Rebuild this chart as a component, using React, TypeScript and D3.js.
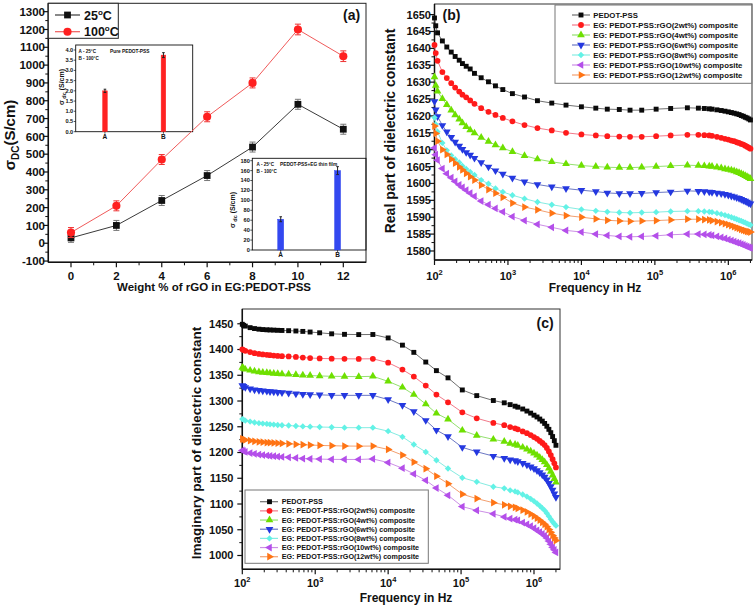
import React from 'react';
import * as d3 from 'd3';

const FONT = "'Liberation Sans', Arial, Helvetica, sans-serif";

// ---------------- Panel (a) data ----------------
const rgoWeights = [0, 2, 4, 6, 8, 10, 12];
const rgoMinorWeights = [1, 3, 5, 7, 9, 11];
const sigma25C = [30, 100, 240, 380, 540, 780, 640];
const sigma25CErr = [25, 28, 28, 28, 28, 28, 28];
const sigma100C = [60, 210, 470, 710, 900, 1200, 1050];
const sigma100CErr = [28, 28, 28, 28, 28, 30, 30];
const sigmaTicks = [-100, 0, 100, 200, 300, 400, 500, 600, 700, 800, 900, 1000, 1100, 1200, 1300];
const tempLabels = ['25', '100'];

const insetCats = ['A', 'B'];
const insetCatPos = [1, 2];
const pureSigma = [2.0, 3.75];
const pureSigmaErr = [0.08, 0.12];
const pureTicks = [0, 0.5, 1.0, 1.5, 2.0, 2.5, 3.0, 3.5, 4.0];
const egSigma = [62, 160];
const egSigmaErr = [5, 8];
const egTicks = [0, 20, 40, 60, 80, 100, 120, 140, 160, 180];

// ---------------- Panels (b), (c) data ----------------
const freqHz = [
  100, 104, 110, 128, 147, 169, 191, 217, 240, 270, 306, 350, 432, 543, 676, 851,
  1150, 1680, 2520, 3950, 6170, 10000, 15700, 22500, 32800, 45900, 66200, 104000,
  164000, 277000, 391000, 471000,
  550000, 600000, 700000, 800000, 900000, 1000000, 1100000, 1200000, 1300000,
  1400000, 1500000, 1600000, 1700000, 1800000, 1900000, 2000000,
];
const decadeExps = [2, 3, 4, 5, 6];

const compositeNames = [
  'PEDOT-PSS',
  'EG: PEDOT-PSS:rGO(2wt%) composite',
  'EG: PEDOT-PSS:rGO(4wt%) composite',
  'EG: PEDOT-PSS:rGO(6wt%) composite',
  'EG: PEDOT-PSS:rGO(8wt%) composite',
  'EG: PEDOT-PSS:rGO(10wt%) composite',
  'EG: PEDOT-PSS:rGO(12wt%) composite',
];

const realPEDOT = [
  1649.0, 1646.7, 1644.6, 1642.2, 1640.4, 1638.9, 1637.6, 1636.5, 1635.5, 1634.7, 1633.9, 1632.6, 1631.3, 1630.1, 1628.9, 1627.8,
  1626.6, 1625.6, 1624.5, 1623.8, 1623.2, 1622.7, 1622.3, 1622.0, 1621.9, 1621.7, 1621.7, 1622.0, 1622.2, 1622.4, 1622.3, 1622.2,
  1622.1, 1622.0, 1621.8, 1621.6, 1621.4, 1621.2, 1621.0, 1620.8, 1620.6, 1620.4, 1620.1, 1619.9, 1619.6, 1619.4, 1619.1, 1618.8,
];
const realRGO2 = [
  1641.0, 1638.6, 1636.3, 1633.0, 1631.2, 1629.7, 1628.4, 1627.2, 1626.3, 1625.5, 1624.6, 1623.6, 1622.3, 1621.2, 1620.3, 1619.4,
  1618.4, 1617.3, 1616.4, 1615.7, 1615.0, 1614.5, 1614.2, 1614.0, 1613.9, 1613.8, 1613.8, 1614.0, 1614.2, 1614.4, 1614.4, 1614.3,
  1614.2, 1614.1, 1613.8, 1613.5, 1613.2, 1613.0, 1612.7, 1612.5, 1612.2, 1612.0, 1611.7, 1611.5, 1611.2, 1610.9, 1610.6, 1610.3,
];
const realRGO4 = [
  1631.5, 1629.0, 1627.3, 1625.1, 1623.3, 1621.7, 1620.3, 1619.0, 1617.9, 1616.8, 1615.8, 1614.9, 1613.6, 1612.4, 1611.4, 1610.5,
  1609.4, 1608.2, 1607.2, 1606.4, 1605.8, 1605.3, 1605.0, 1604.8, 1604.7, 1604.7, 1604.8, 1605.0, 1605.2, 1605.4, 1605.3, 1605.2,
  1605.1, 1605.0, 1604.8, 1604.6, 1604.3, 1604.1, 1603.9, 1603.7, 1603.4, 1603.2, 1602.9, 1602.6, 1602.3, 1602.0, 1601.7, 1601.4,
];
const realRGO6 = [
  1624.3, 1621.8, 1619.8, 1617.2, 1615.3, 1613.7, 1612.3, 1611.1, 1610.1, 1609.2, 1608.4, 1607.5, 1606.2, 1604.9, 1603.8, 1602.8,
  1601.6, 1600.5, 1599.7, 1599.0, 1598.5, 1598.0, 1597.6, 1597.2, 1597.0, 1597.0, 1597.1, 1597.3, 1597.5, 1597.8, 1597.7, 1597.6,
  1597.5, 1597.4, 1597.2, 1597.0, 1596.8, 1596.6, 1596.3, 1596.1, 1595.8, 1595.6, 1595.3, 1595.0, 1594.8, 1594.5, 1594.2, 1594.0,
];
const realRGO8 = [
  1619.5, 1617.5, 1615.3, 1612.0, 1609.8, 1608.3, 1607.2, 1606.2, 1605.2, 1604.3, 1603.4, 1602.5, 1601.0, 1599.9, 1598.5, 1597.5,
  1596.5, 1595.5, 1594.5, 1593.7, 1593.0, 1592.3, 1591.9, 1591.6, 1591.4, 1591.3, 1591.4, 1591.5, 1591.7, 1591.8, 1591.8, 1591.7,
  1591.6, 1591.5, 1591.2, 1590.9, 1590.6, 1590.3, 1590.0, 1589.7, 1589.4, 1589.1, 1588.9, 1588.6, 1588.4, 1588.1, 1587.9, 1587.7,
];
const realRGO10 = [
  1610.5, 1608.5, 1606.9, 1604.4, 1602.9, 1601.7, 1600.6, 1599.6, 1598.8, 1598.0, 1597.1, 1596.2, 1594.8, 1593.7, 1592.6, 1591.6,
  1590.2, 1589.0, 1587.9, 1587.0, 1586.1, 1585.6, 1585.0, 1584.6, 1584.3, 1584.2, 1584.3, 1584.5, 1584.8, 1585.0, 1585.0, 1584.9,
  1584.8, 1584.6, 1584.3, 1584.0, 1583.7, 1583.4, 1583.1, 1582.8, 1582.5, 1582.3, 1582.0, 1581.8, 1581.5, 1581.3, 1581.1, 1580.9,
];
const realRGO12 = [
  1617.0, 1614.8, 1612.5, 1610.0, 1608.6, 1607.2, 1606.0, 1604.9, 1604.0, 1603.0, 1602.0, 1601.0, 1599.5, 1598.2, 1597.1, 1595.9,
  1594.2, 1593.0, 1592.2, 1591.2, 1590.5, 1590.0, 1589.5, 1589.1, 1588.9, 1588.8, 1588.9, 1589.0, 1589.2, 1589.4, 1589.4, 1589.3,
  1589.2, 1589.0, 1588.7, 1588.4, 1588.1, 1587.8, 1587.5, 1587.2, 1586.9, 1586.7, 1586.4, 1586.2, 1586.0, 1585.8, 1585.7, 1585.6,
];
const realTicks = [1580, 1585, 1590, 1595, 1600, 1605, 1610, 1615, 1620, 1625, 1630, 1635, 1640, 1645, 1650];

const imagPEDOT = [
  1449, 1447, 1445.5, 1442.5, 1440.7, 1439.5, 1438.8, 1438.3, 1438, 1437.7, 1437.3, 1437, 1436.6, 1436, 1435.2, 1434,
  1432.5, 1430.5, 1429.5, 1429, 1429.2, 1422.5, 1408.5, 1394.5, 1375.7, 1359, 1345, 1321.5, 1310.5, 1301, 1296.5, 1293,
  1290, 1288, 1284.5, 1280.5, 1276.5, 1272.5, 1269, 1265, 1261, 1256.5, 1251, 1245, 1238.5, 1231, 1223, 1214,
];
const imagRGO2 = [
  1400.5, 1399, 1397.5, 1395, 1393, 1391.5, 1390.5, 1389.8, 1389, 1388.3, 1387.6, 1387, 1386.5, 1385.7, 1384.5, 1383.5,
  1382.7, 1382.2, 1382, 1381.8, 1382, 1374.5, 1361, 1347.5, 1330, 1312.5, 1297.5, 1278, 1266.5, 1257.5, 1253, 1249.5,
  1247, 1245, 1241, 1237.5, 1234, 1230, 1226.5, 1222.5, 1218.5, 1214.5, 1209, 1202, 1195, 1187, 1179, 1171,
];
const imagRGO4 = [
  1365, 1363, 1361.5, 1359.5, 1357.7, 1356.5, 1355.5, 1354.8, 1354.2, 1353.5, 1353, 1352.4, 1351.8, 1351, 1350, 1349.5,
  1348.7, 1348, 1347.7, 1347.3, 1348, 1338.2, 1326.5, 1312.4, 1294, 1276, 1264.5, 1243, 1233, 1225.5, 1221.5, 1217.5,
  1215.5, 1213.5, 1210, 1206.5, 1202.5, 1198.5, 1194.5, 1190.5, 1186, 1181.5, 1176, 1169.5, 1163, 1156, 1149, 1142,
];
const imagRGO6 = [
  1330, 1328.5, 1326.5, 1324, 1322, 1320.8, 1319.8, 1319.2, 1318.6, 1318, 1317.2, 1316.4, 1315.4, 1314.3, 1313.2, 1312.6,
  1312, 1311.2, 1311, 1311, 1311, 1302.8, 1291.6, 1279.5, 1262.4, 1243.5, 1231, 1210, 1201.5, 1193, 1189, 1186,
  1184.5, 1182.5, 1179, 1176, 1172.5, 1169, 1165, 1161, 1157, 1152.5, 1147, 1140.5, 1134, 1127, 1120, 1113,
];
const imagRGO8 = [
  1265, 1263.7, 1262, 1260, 1258.3, 1257, 1256.2, 1255.5, 1254.8, 1254.2, 1253.5, 1253, 1252.4, 1251.5, 1250.7, 1250.2,
  1249.5, 1249, 1248.3, 1248.2, 1248.3, 1241.5, 1230.5, 1215.5, 1201, 1185, 1169, 1151, 1143, 1133.5, 1130.5, 1126.5,
  1124.5, 1122.5, 1118.5, 1114.5, 1110, 1105.5, 1101, 1096.5, 1092, 1087.5, 1082, 1076, 1070.5, 1065.5, 1061.5, 1058,
];
const imagRGO10 = [
  1204, 1202.7, 1201, 1199, 1197.5, 1196, 1195, 1194.2, 1193.3, 1192.8, 1192.2, 1191.5, 1190.7, 1189.5, 1188.3, 1187.8,
  1187.2, 1186.7, 1186.5, 1186.5, 1187.5, 1180.5, 1169.5, 1158.5, 1146, 1131, 1117, 1095, 1087.5, 1081, 1075, 1071.5,
  1069.5, 1068, 1064, 1060.5, 1057, 1053, 1049, 1045.5, 1042, 1038.5, 1034, 1028, 1022, 1016, 1011, 1006,
];
const imagRGO12 = [
  1226.5, 1225.5, 1224.5, 1223, 1221.8, 1220.8, 1220, 1219.4, 1219, 1218.6, 1218, 1217.6, 1217, 1216, 1215.2, 1214.5,
  1213.8, 1213.2, 1212.6, 1212.4, 1212.5, 1206, 1195, 1181.5, 1168.5, 1154, 1139.5, 1119, 1110.5, 1102.5, 1098.5, 1095.5,
  1093.5, 1091.5, 1088, 1084.5, 1080.5, 1076.5, 1072.5, 1068.5, 1064.5, 1060.5, 1056, 1050.5, 1045, 1039, 1034, 1029,
];
const imagTicks = [1000, 1050, 1100, 1150, 1200, 1250, 1300, 1350, 1400, 1450];

const realSeries = [realPEDOT, realRGO2, realRGO4, realRGO6, realRGO8, realRGO10, realRGO12];
const imagSeries = [imagPEDOT, imagRGO2, imagRGO4, imagRGO6, imagRGO8, imagRGO10, imagRGO12];

// ---------------- styles ----------------
const SERIES_STYLE = [
  { marker: 'square', fill: '#0a0a0a', line: '#707070' },
  { marker: 'circle', fill: '#ff1a1a', line: '#f27a8a' },
  { marker: 'triUp', fill: '#6ee000', line: '#94e070' },
  { marker: 'triDown', fill: '#2438e0', line: '#6c78c4' },
  { marker: 'diamond', fill: '#62f2e6', line: '#86ece2' },
  { marker: 'triLeft', fill: '#b44fea', line: '#cc8fe6' },
  { marker: 'triRight', fill: '#ff7414', line: '#f3a070' },
];

function markerPath(kind: string): { d: string; rot: number } {
  if (kind === 'square') return { d: d3.symbol().type(d3.symbolSquare).size(24)() as string, rot: 0 };
  if (kind === 'circle') return { d: d3.symbol().type(d3.symbolCircle).size(26)() as string, rot: 0 };
  if (kind === 'diamond') return { d: d3.symbol().type(d3.symbolSquare).size(20)() as string, rot: 45 };
  const rot = kind === 'triDown' ? 180 : kind === 'triLeft' ? -90 : kind === 'triRight' ? 90 : 0;
  return { d: d3.symbol().type(d3.symbolTriangle).size(26)() as string, rot };
}

// ---------------- Panel (a) ----------------
function ErrorBar({ x, y1, y2, color, cap }: { x: number; y1: number; y2: number; color: string; cap: number }) {
  return (
    <g stroke={color} strokeWidth={1}>
      <line x1={x} x2={x} y1={y1} y2={y2} />
      <line x1={x - cap} x2={x + cap} y1={y1} y2={y1} />
      <line x1={x - cap} x2={x + cap} y1={y2} y2={y2} />
    </g>
  );
}

function Inset(props: {
  L: number; R: number; T: number; B: number; yMax: number; ticks: number[]; fmt: (v: number) => string;
  values: number[]; errs: number[]; color: string; barW: number; yLabelX: number; yLabelY: number;
  note1: string; note2: string; title: string; noteX: number; noteY: number; titleX: number;
}) {
  const { L, R, T, B } = props;
  const x = d3.scaleLinear().domain([0.5, 2.5]).range([L, R]);
  const y = d3.scaleLinear().domain([0, props.yMax]).range([B, T]);
  return (
    <g>
      <rect x={L} y={T} width={R - L} height={B - T} fill="none" stroke="#111" strokeWidth={0.9} />
      {props.ticks.map((t) => (
        <g key={t}>
          <line x1={L - 2} x2={L} y1={y(t)} y2={y(t)} stroke="#111" strokeWidth={0.7} />
          <text x={L - 2.5} y={y(t)} dy="0.35em" fontSize={5.6} fontWeight="bold" textAnchor="end" fill="#111">
            {props.fmt(t)}
          </text>
        </g>
      ))}
      {props.values.map((v, i) => {
        const cx = x(insetCatPos[i]);
        return (
          <g key={i}>
            <rect x={cx - props.barW / 2} y={y(v)} width={props.barW} height={B - y(v)} fill={props.color} stroke={props.color} strokeWidth={0.5} />
            <ErrorBar x={cx} y1={y(v + props.errs[i])} y2={y(v - props.errs[i])} color="#222" cap={1.3} />
            <line x1={cx} x2={cx} y1={B} y2={B + 2} stroke="#111" strokeWidth={0.7} />
            <text x={cx} y={B + 7} fontSize={6.5} fontWeight="bold" textAnchor="middle" fill="#111">
              {insetCats[i]}
            </text>
          </g>
        );
      })}
      <text transform={`translate(${props.yLabelX},${props.yLabelY}) rotate(-90)`} fontSize={7} fontWeight="bold" textAnchor="middle" fill="#111">
        σ<tspan dy={2} fontSize={5.5}> dc</tspan><tspan dy={-2}> (S/cm)</tspan>
      </text>
      <text x={props.noteX} y={props.noteY} fontSize={4.6} fontWeight="bold" fill="#111">
        {props.note1}
      </text>
      <text x={props.noteX} y={props.noteY + 7} fontSize={4.6} fontWeight="bold" fill="#111">
        {props.note2}
      </text>
      <text x={props.titleX} y={props.noteY} fontSize={4.8} fontWeight="bold" fill="#111">
        {props.title}
      </text>
    </g>
  );
}

function PanelA() {
  const L = 48.3, R = 366, T = 3.3, B = 262.3;
  const x = d3.scaleLinear().domain([-1, 13]).range([L, R]);
  const y = d3.scaleLinear().domain([-107, 1347]).range([B, T]);
  const line = d3.line<number>().x((_, i) => x(rgoWeights[i])).y((d) => y(d));
  const sq = d3.symbol().type(d3.symbolSquare).size(46)() as string;
  const ci = d3.symbol().type(d3.symbolCircle).size(52)() as string;
  const minorY = sigmaTicks.slice(0, -1).map((t, i) => (t + sigmaTicks[i + 1]) / 2);
  return (
    <g>
      <rect x={L} y={T} width={R - L} height={B - T} fill="none" stroke="#222" strokeWidth={1} />
      <line x1={L} x2={L} y1={T} y2={B} stroke="#111" strokeWidth={1.5} />
      <line x1={L} x2={R} y1={B} y2={B} stroke="#111" strokeWidth={1.5} />
      {sigmaTicks.map((t) => (
        <g key={t}>
          <line x1={L - 5} x2={L} y1={y(t)} y2={y(t)} stroke="#111" strokeWidth={1.2} />
          <text x={45} y={y(t)} dy="0.36em" fontSize={11.5} fontWeight="bold" textAnchor="end" fill="#111">
            {t}
          </text>
        </g>
      ))}
      {minorY.map((t) => (
        <line key={t} x1={L - 3} x2={L} y1={y(t)} y2={y(t)} stroke="#111" strokeWidth={1} />
      ))}
      {rgoWeights.map((w) => (
        <g key={w}>
          <line x1={x(w)} x2={x(w)} y1={B} y2={B + 5} stroke="#111" strokeWidth={1.2} />
          <text x={x(w)} y={280} fontSize={11.5} fontWeight="bold" textAnchor="middle" fill="#111">
            {w}
          </text>
        </g>
      ))}
      {rgoMinorWeights.map((w) => (
        <line key={w} x1={x(w)} x2={x(w)} y1={B} y2={B + 3} stroke="#111" strokeWidth={1} />
      ))}
      <text x={214} y={290.5} fontSize={11.5} fontWeight="bold" textAnchor="middle" fill="#111">
        Weight % of rGO in EG:PEDOT-PSS
      </text>
      <text transform="translate(15,135) rotate(-90)" fontSize={15} fontWeight="bold" textAnchor="middle" fill="#111">
        σ<tspan dy={4} fontSize={10}>DC</tspan><tspan dy={-4}>(S/cm)</tspan>
      </text>

      {/* insets */}
      <Inset L={75.7} R={192.7} T={45} B={131.7} yMax={4.245} ticks={pureTicks} fmt={(v) => v.toFixed(1)}
        values={pureSigma} errs={pureSigmaErr} color="#ff2222" barW={4.6} yLabelX={63.5} yLabelY={87}
        note1="A - 25°C" note2="B - 100°C" title="Pure PEDOT-PSS" noteX={78.5} noteY={52.5} titleX={110} />
      <Inset L={252.3} R={366} T={158.3} B={250} yMax={184.8} ticks={egTicks} fmt={(v) => String(v)}
        values={egSigma} errs={egSigmaErr} color="#3348f0" barW={6} yLabelX={235} yLabelY={210}
        note1="A - 25°C" note2="B - 100°C" title="PEDOT-PSS+EG thin film" noteX={256.5} noteY={165.5} titleX={280} />

      {/* series */}
      <path d={line(sigma25C) as string} fill="none" stroke="#3a3a3a" strokeWidth={1} />
      <path d={line(sigma100C) as string} fill="none" stroke="#f05a5a" strokeWidth={1} />
      {sigma25C.map((v, i) => (
        <g key={'b' + i}>
          <ErrorBar x={x(rgoWeights[i])} y1={y(v + sigma25CErr[i])} y2={y(v - sigma25CErr[i])} color="#777" cap={3} />
          <path d={sq} transform={`translate(${x(rgoWeights[i])},${y(v)})`} fill="#111" />
        </g>
      ))}
      {sigma100C.map((v, i) => (
        <g key={'r' + i}>
          <ErrorBar x={x(rgoWeights[i])} y1={y(v + sigma100CErr[i])} y2={y(v - sigma100CErr[i])} color="#ee3333" cap={3} />
          <path d={ci} transform={`translate(${x(rgoWeights[i])},${y(v)})`} fill="#ff2020" />
        </g>
      ))}

      {/* legend */}
      <rect x={L} y={T} width={118.3 - L} height={38.3 - T} fill="#fff" stroke="#222" strokeWidth={1} />
      {tempLabels.map((t, i) => {
        const ly = 15 + i * 16.7;
        return (
          <g key={t}>
            <line x1={55} x2={80} y1={ly} y2={ly} stroke={i === 0 ? '#3a3a3a' : '#f05a5a'} strokeWidth={1.2} />
            <path d={i === 0 ? sq : ci} transform={`translate(67.5,${ly})`} fill={i === 0 ? '#111' : '#ff2020'} />
            <text x={84} y={ly + 4.5} fontSize={12.5} fontWeight="bold" fill="#111">
              {t}
              <tspan dy={-5} fontSize={8}>o</tspan>
              <tspan dy={5}>C</tspan>
            </text>
          </g>
        );
      })}
      <text x={343} y={19.5} fontSize={14} fontWeight="bold" fill="#111">(a)</text>
    </g>
  );
}

// ---------------- Panels (b), (c) ----------------
type LegendCfg = { x: number; y: number; w: number; h: number; row0: number; step: number; lx0: number; lx1: number; mx: number; tx: number; font: number };

function DielectricPanel(p: {
  L: number; R: number; T: number; B: number; xMax: number; yLo: number; yHi: number;
  yTicks: number[]; yTickX: number; xTickY: number; xTitleX: number; xTitleY: number;
  yTitle: string; yTitleX: number; yTitleY: number; yTitleSize: number;
  tag: string; tagX: number; tagY: number; series: number[][]; legend: LegendCfg;
}) {
  const { L, R, T, B } = p;
  const x = d3.scaleLog().domain([100, p.xMax]).range([L, R]);
  const y = d3.scaleLinear().domain([p.yLo, p.yHi]).range([B, T]);
  const majors = decadeExps.map((k) => Math.pow(10, k)).filter((v) => v <= p.xMax);
  const minors: number[] = [];
  decadeExps.forEach((k) => {
    for (let m = 2; m <= 9; m++) {
      const v = m * Math.pow(10, k);
      if (v <= p.xMax) minors.push(v);
    }
  });
  const yMinor = p.yTicks.slice(0, -1).map((t, i) => (t + p.yTicks[i + 1]) / 2);
  const lineGen = d3.line<number>().x((_, i) => x(freqHz[i])).y((d) => y(d));
  const lg = p.legend;
  return (
    <g>
      <rect x={L} y={T} width={R - L} height={B - T} fill="none" stroke="#333" strokeWidth={1} />
      <line x1={L} x2={L} y1={T} y2={B} stroke="#111" strokeWidth={1.5} />
      <line x1={L} x2={R} y1={B} y2={B} stroke="#111" strokeWidth={1.5} />
      {p.yTicks.map((t) => (
        <g key={t}>
          <line x1={L - 5} x2={L} y1={y(t)} y2={y(t)} stroke="#111" strokeWidth={1.2} />
          <text x={p.yTickX} y={y(t)} dy="0.36em" fontSize={11} fontWeight="bold" textAnchor="end" fill="#111">
            {t}
          </text>
        </g>
      ))}
      {yMinor.map((t) => (
        <line key={t} x1={L - 3} x2={L} y1={y(t)} y2={y(t)} stroke="#111" strokeWidth={1} />
      ))}
      {majors.map((v, i) => (
        <g key={v}>
          <line x1={x(v)} x2={x(v)} y1={B} y2={B + 5} stroke="#111" strokeWidth={1.2} />
          <text x={x(v)} y={p.xTickY} fontSize={11} fontWeight="bold" textAnchor="middle" fill="#111">
            10<tspan dy={-5} fontSize={7.5}>{decadeExps[i]}</tspan>
          </text>
        </g>
      ))}
      {minors.map((v) => (
        <line key={v} x1={x(v)} x2={x(v)} y1={B} y2={B + 3} stroke="#111" strokeWidth={1} />
      ))}
      <text x={p.xTitleX} y={p.xTitleY} fontSize={12} fontWeight="bold" textAnchor="middle" fill="#111">
        Frequency in Hz
      </text>
      <text transform={`translate(${p.yTitleX},${p.yTitleY}) rotate(-90)`} fontSize={p.yTitleSize} fontWeight="bold" textAnchor="middle" fill="#111">
        {p.yTitle}
      </text>

      {p.series.map((vals, si) => {
        const st = SERIES_STYLE[si];
        const mk = markerPath(st.marker);
        return (
          <g key={si}>
            <path d={lineGen(vals) as string} fill="none" stroke={st.line} strokeWidth={1} />
            {vals.map((v, i) => (
              <path key={i} d={mk.d} transform={`translate(${x(freqHz[i])},${y(v)}) rotate(${mk.rot})`} fill={st.fill} />
            ))}
          </g>
        );
      })}

      <rect x={lg.x} y={lg.y} width={lg.w} height={lg.h} fill="#fff" stroke="#777" strokeWidth={1} />
      {compositeNames.map((name, i) => {
        const st = SERIES_STYLE[i];
        const mk = markerPath(st.marker);
        const ly = lg.row0 + i * lg.step;
        return (
          <g key={name}>
            <line x1={lg.lx0} x2={lg.lx1} y1={ly} y2={ly} stroke={st.line} strokeWidth={1.2} />
            <path d={mk.d} transform={`translate(${lg.mx},${ly}) rotate(${mk.rot})`} fill={st.fill} />
            <text x={lg.tx} y={ly} dy="0.35em" fontSize={lg.font} fontWeight="bold" fill="#111">
              {name}
            </text>
          </g>
        );
      })}
      <text x={p.tagX} y={p.tagY} fontSize={14} fontWeight="bold" fill="#111">{p.tag}</text>
    </g>
  );
}

export default function App() {
  return (
    <svg width={756} height={609} viewBox="0 0 756 609" fontFamily={FONT}
      style={{ position: 'absolute', left: 0, top: 0, display: 'block', background: '#fff' }}>
      <rect x={0} y={0} width={756} height={609} fill="#fff" />
      <PanelA />
      <DielectricPanel
        L={434.5} R={752} T={4} B={260} xMax={2.1e6} yLo={1577.33} yHi={1653.14}
        yTicks={realTicks} yTickX={431} xTickY={279.5} xTitleX={595} xTitleY={292}
        yTitle="Real part of dielectric constant" yTitleX={395} yTitleY={131} yTitleSize={14}
        tag="(b)" tagX={442.5} tagY={20} series={realSeries}
        legend={{ x: 555, y: 5, w: 196.7, h: 78.3, row0: 15, step: 10, lx0: 572, lx1: 590, mx: 581, tx: 593.3, font: 7.8 }}
      />
      <DielectricPanel
        L={242.3} R={560} T={309} B={569.3} xMax={2.273e6} yLo={973.2} yHi={1478.7}
        yTicks={imagTicks} yTickX={233.5} xTickY={586.5} xTitleX={406} xTitleY={602}
        yTitle="Imaginary part of dielectric constant" yTitleX={201} yTitleY={443} yTitleSize={13.5}
        tag="(c)" tagX={536.5} tagY={328} series={imagSeries}
        legend={{ x: 245, y: 490, w: 183.3, h: 73.3, row0: 501.7, step: 9.17, lx0: 260, lx1: 278, mx: 269.5, tx: 281.7, font: 7.2 }}
      />
    </svg>
  );
}
